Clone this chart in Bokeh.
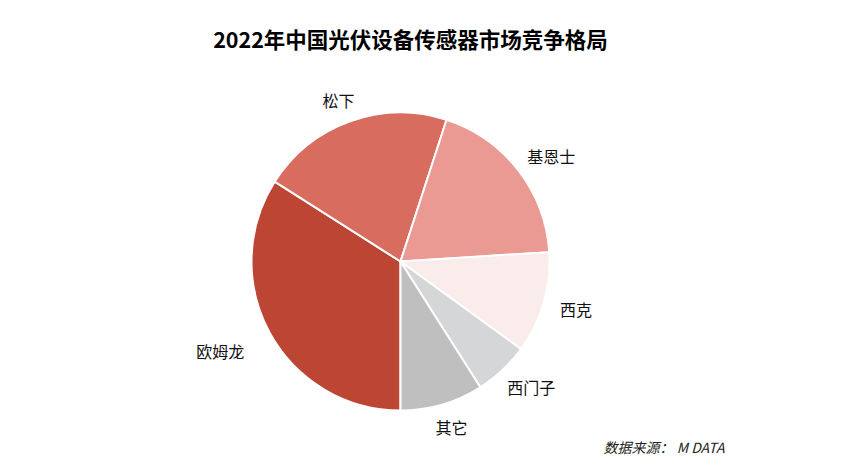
import math
from bokeh.plotting import figure
from bokeh.models import Range1d, ColumnDataSource, Label
from bokeh.core.properties import value
from bokeh.embed import file_html
from bokeh.resources import INLINE

title_text = "2022年中国光伏设备传感器市场竞争格局"
source_text = "数据来源：  M DATA"
categories = ["欧姆龙", "松下", "基恩士", "西克", "西门子", "其它"]
shares = [34, 21, 19, 11, 6, 9]
colors = ["#BC4533", "#D76C5F", "#EA9A93", "#F9ECEA", "#D5D6D8", "#BFBFBF"]

W, H = 842, 460
p = figure(width=W, height=H, output_backend="svg", toolbar_location=None,
           x_range=Range1d(0, W), y_range=Range1d(0, H), min_border=0)
p.axis.visible = False
p.grid.visible = False
p.outline_line_color = None
p.background_fill_color = "white"

cx, cy, R = 400, 199, 149
total = sum(shares)
starts, ends, mids = [], [], []
cum = 0.0
for s in shares:
    a0 = math.radians(270 - cum / total * 360)
    cum += s
    a1 = math.radians(270 - cum / total * 360)
    starts.append(a0)
    ends.append(a1)
    mids.append((a0 + a1) / 2)

src = ColumnDataSource(dict(start=starts, end=ends, color=colors))
p.wedge(x=cx, y=cy, radius=R, start_angle="start", end_angle="end", direction="clock",
        fill_color="color", line_color="white", line_width=2, source=src)

lx, ly = [], []
for name, m in zip(categories, mids):
    w = len(name) * 16
    r = R * 1.12 + (0.1 * R if math.cos(m) < -0.8 else 0)
    lx.append(cx + r * math.cos(m) + w / 2 * math.cos(m))
    ly.append(cy + r * math.sin(m) + 5 * math.sin(m))
lsrc = ColumnDataSource(dict(x=lx, y=ly, t=categories))
p.text(x="x", y="y", text="t", source=lsrc, text_align="center", text_baseline="middle",
       text_font=value("Noto Sans CJK SC"), text_font_size="16px", text_color="#111111")

p.add_layout(Label(x=410, y=422, text=title_text, text_align="center", text_baseline="middle",
                   text_font="Noto Sans CJK SC", text_font_size="21.5px", text_font_style="bold",
                   text_color="#000000"))
p.add_layout(Label(x=603, y=14, text=source_text, text_align="left", text_baseline="middle",
                   text_font="Noto Sans CJK SC", text_font_size="14px", text_font_style="italic",
                   text_color="#222222"))

open("out.html", "w").write(file_html(p, INLINE))
